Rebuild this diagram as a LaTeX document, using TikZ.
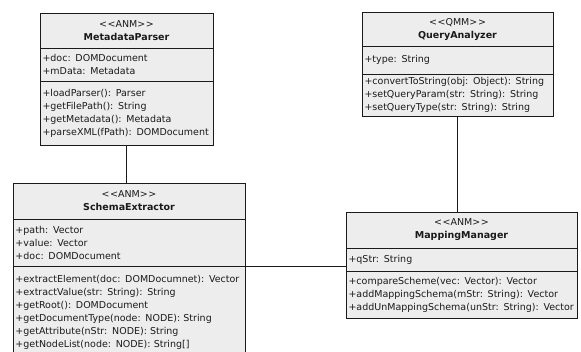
\documentclass[tikz,border=0pt]{standalone}
\usepackage{fontspec}
\setmainfont{DejaVu Sans}
\usetikzlibrary{positioning}
\definecolor{ink}{HTML}{1A1A1A}
\definecolor{paper}{HTML}{EDEDED}
\newcommand{\stereo}[1]{\textless\kern0.6pt\textless#1\textgreater\kern0.6pt\textgreater}

\begin{document}
\begin{tikzpicture}[x=1pt,y=-1pt,font=\fontsize{9.5}{13}\selectfont,
  box/.style={draw=ink,fill=paper,line width=0.8pt,inner xsep=2.5pt,inner ysep=0pt,outer sep=0pt,text=ink},
  head/.style={box,align=center},
  body/.style={box,align=left},
  link/.style={draw=ink,line width=0.8pt}]
\useasboundingbox (0,0) rectangle (581,351);
\clip (0,0) rectangle (581,351);
% metadata parser
\node[head,text width=168pt,minimum height=35pt,anchor=north west] (parser) at (40,13) {\stereo{ANM}\\\textbf{MetadataParser}};
\node[body,text width=168pt,minimum height=33pt,below=0pt of parser] (parser-attr) {+doc: DOMDocument\\+mData: Metadata};
\node[body,text width=168pt,minimum height=64pt,below=0pt of parser-attr] (parser-ops) {+loadParser(): Parser\\+getFilePath(): String\\+getMetadata(): Metadata\\+parseXML(fPath): DOMDocument};
% query analyzer
\node[head,text width=186pt,minimum height=34pt,anchor=north west] (query) at (362,12) {\stereo{QMM}\\\textbf{QueryAnalyzer}};
\node[body,text width=186pt,minimum height=28pt,below=0pt of query] (query-attr) {+type: String};
\node[body,text width=186pt,minimum height=42pt,below=0pt of query-attr] (query-ops) {+convertToString(obj: Object): String\\+setQueryParam(str: String): String\\+setQueryType(str: String): String};
% schema extractor
\node[head,text width=227pt,minimum height=36pt,anchor=north west] (extractor) at (13,183) {\stereo{ANM}\\\textbf{SchemaExtractor}};
\node[body,text width=227pt,minimum height=47pt,below=0pt of extractor] (extractor-attr) {+path: Vector\\+value: Vector\\+doc: DOMDocument};
\node[body,text width=227pt,minimum height=92pt,below=0pt of extractor-attr] (extractor-ops) {+extractElement(doc: DOMDocumnet): Vector\\+extractValue(str: String): String\\+getRoot(): DOMDocument\\+getDocumentType(node: NODE): String\\+getAttribute(nStr: NODE): String\\+getNodeList(node: NODE): String[]};
% mapping manager
\node[head,text width=226pt,minimum height=36pt,anchor=north west] (mapper) at (346,212) {\stereo{ANM}\\\textbf{MappingManager}};
\node[body,text width=226pt,minimum height=23pt,below=0pt of mapper] (mapper-attr) {+qStr: String};
\node[body,text width=226pt,minimum height=47pt,below=0pt of mapper-attr] (mapper-ops) {+compareScheme(vec: Vector): Vector\\+addMappingSchema(mStr: String): Vector\\+addUnMappingSchema(unStr: String): Vector};
% links
\draw[link] (parser-ops.south) -- (parser-ops.south |- extractor.north);
\draw[link] (query-ops.south) -- (query-ops.south |- mapper.north);
\draw[link] (extractor-attr.south east) -- (extractor-attr.south east -| mapper.west);
\end{tikzpicture}
\end{document}
